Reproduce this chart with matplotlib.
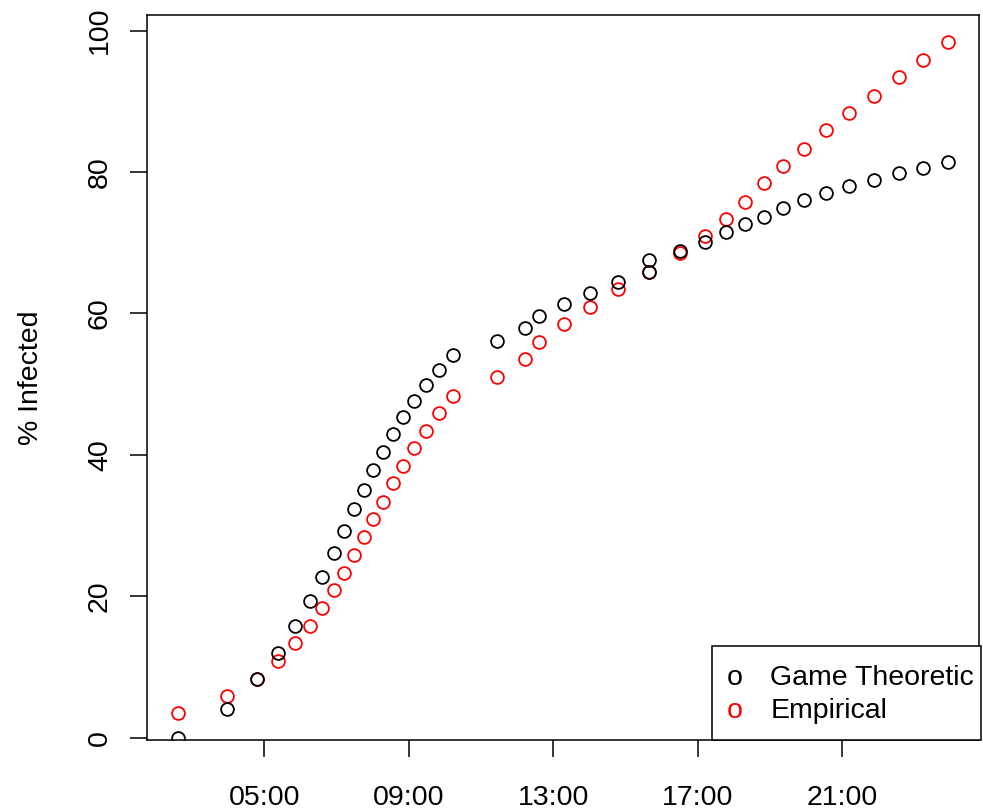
import matplotlib
matplotlib.use("Agg")
import matplotlib.pyplot as plt
from matplotlib.patches import Rectangle

plt.rcParams['font.family'] = ['Liberation Sans', 'DejaVu Sans']

# --- data (time of day, % infected) ---
emp_times = ["02:36", "03:57", "04:47", "05:22", "05:51", "06:16", "06:36", "06:55",
             "07:12", "07:29", "07:45", "08:00", "08:17", "08:33", "08:50", "09:08",
             "09:28", "09:50", "10:13", "11:26", "12:13", "12:36", "13:18", "14:01",
             "14:47", "15:39", "16:30", "17:12", "17:47", "18:18", "18:50", "19:21",
             "19:56", "20:33", "21:11", "21:53", "22:34", "23:14", "23:56"]
emp_pct = [3.5, 5.9, 8.3, 10.9, 13.4, 15.8, 18.4, 20.9, 23.3, 25.8, 28.4, 30.9, 33.3,
           36.0, 38.4, 41.0, 43.4, 45.9, 48.4, 51.0, 53.5, 55.9, 58.5, 60.9, 63.4,
           65.8, 68.6, 70.9, 73.4, 75.8, 78.4, 80.9, 83.3, 85.9, 88.4, 90.8, 93.4,
           95.9, 98.4]

game_times = ["02:36", "03:57", "04:47", "05:22", "05:51", "06:16", "06:36", "06:55",
              "07:12", "07:29", "07:45", "08:00", "08:17", "08:33", "08:50", "09:08",
              "09:28", "09:50", "10:13", "11:26", "12:13", "12:36", "13:18", "14:01",
              "14:47", "15:39", "15:39", "16:30", "17:12", "17:47", "18:18", "18:50",
              "19:21", "19:56", "20:33", "21:11", "21:53", "22:34", "23:14", "23:56"]
game_pct = [0.0, 4.1, 8.3, 12.0, 15.8, 19.4, 22.7, 26.1, 29.2, 32.3, 35.0, 37.9, 40.4,
            42.9, 45.3, 47.6, 49.9, 52.0, 54.1, 56.1, 57.9, 59.6, 61.3, 62.9, 64.5,
            67.5, 65.8, 68.8, 70.1, 71.5, 72.6, 73.7, 74.9, 76.0, 77.0, 78.0, 78.8,
            79.8, 80.6, 81.4]

tick_hours = [5, 9, 13, 17, 21]
tick_labels = ["05:00", "09:00", "13:00", "17:00", "21:00"]


def to_hours(t):
    h, m = t.split(":")
    return int(h) + int(m) / 60.0


emp_x = [to_hours(t) for t in emp_times]
game_x = [to_hours(t) for t in game_times]

fig = plt.figure(figsize=(9.83, 8.10), dpi=100)
ax = fig.add_axes([147 / 983, 1 - 740 / 810, 832 / 983, 725 / 810])

ms, mew = 9.2, 1.3
ax.plot(emp_x, emp_pct, linestyle='none', marker='o', markersize=ms,
        markerfacecolor='none', markeredgecolor='red', markeredgewidth=mew)
ax.plot(game_x, game_pct, linestyle='none', marker='o', markersize=ms,
        markerfacecolor='none', markeredgecolor='black', markeredgewidth=mew)

# R-style limits: 4% padding around the data range (y from the empirical series)
ax.margins(x=0.04)
lo, hi = min(emp_pct), max(emp_pct)
pad = 0.04 * (hi - lo)
ax.set_ylim(lo - pad, hi + pad)

ax.set_xticks(tick_hours)
ax.set_xticklabels(tick_labels)
ax.set_yticks([0, 20, 40, 60, 80, 100])
ax.tick_params(axis='both', length=12.5, width=1.1, labelsize=20.5, color='black')
ax.tick_params(axis='x', pad=20)
ax.tick_params(axis='y', pad=12)
plt.setp(ax.get_yticklabels(), rotation=90, va='center')
for s in ax.spines.values():
    s.set_linewidth(1.1)

ax.set_ylabel('% Infected', fontsize=20.5)
ax.yaxis.set_label_coords(-0.124, 0.5)

# legend box in the bottom-right corner, drawn like R's legend()
ax.add_patch(Rectangle((0.679, 0.0), 0.323, 0.13, transform=ax.transAxes,
                       facecolor='white', edgecolor='black', linewidth=1.1,
                       clip_on=False, zorder=5))
ax.text(0.707, 0.0855, 'o', color='black', fontsize=20.5, ha='center', va='center',
        transform=ax.transAxes, zorder=6)
ax.text(0.707, 0.040, 'o', color='red', fontsize=20.5, ha='center', va='center',
        transform=ax.transAxes, zorder=6)
ax.text(0.749, 0.0855, 'Game Theoretic', fontsize=20.5, ha='left', va='center',
        transform=ax.transAxes, zorder=6)
ax.text(0.749, 0.040, 'Empirical', fontsize=20.5, ha='left', va='center',
        transform=ax.transAxes, zorder=6)

fig.savefig('out.png', dpi=100)
